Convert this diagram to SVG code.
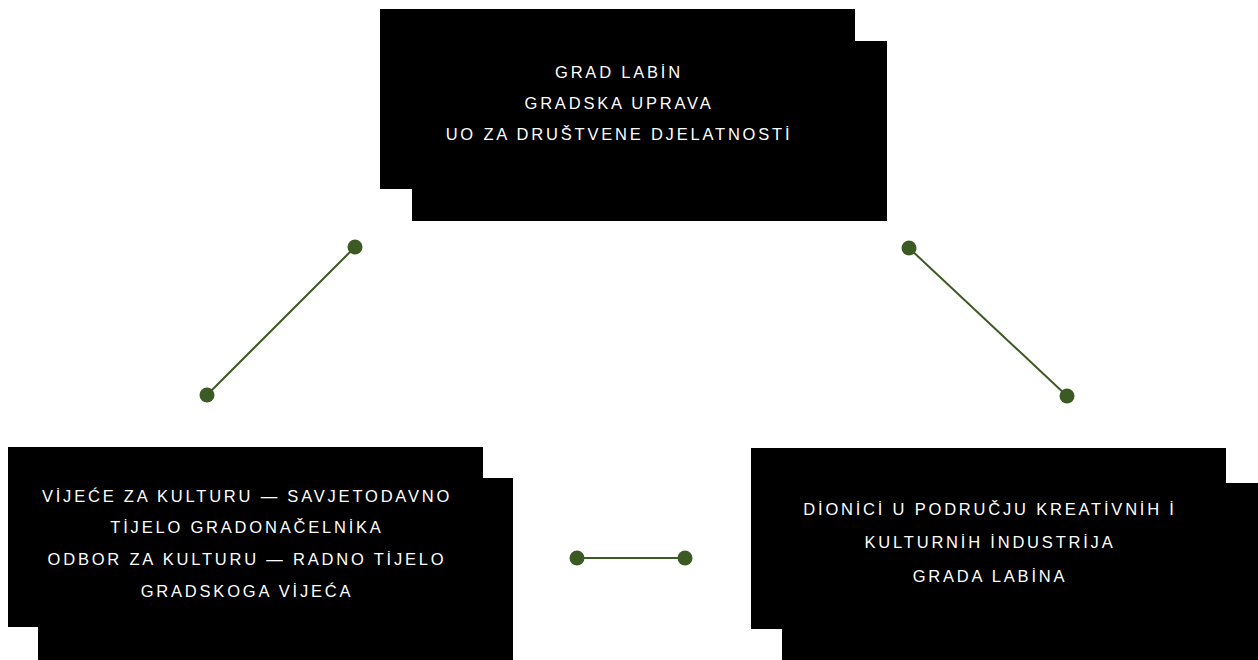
<svg xmlns="http://www.w3.org/2000/svg" width="1258" height="660" viewBox="0 0 1258 660">
<style>
.box{fill:#000}
.t{fill:#fff;font-family:"Liberation Sans",Arial,sans-serif;font-size:16.5px;letter-spacing:2.8px;text-anchor:middle}
.ln{stroke:#3c5a23;stroke-width:2;fill:none}
.dot{fill:#3c5a23}
</style>
<rect width="1258" height="660" fill="#fff"/>
<g id="connectors">
<line class="ln" x1="355" y1="247" x2="207" y2="395"/>
<circle class="dot" cx="355" cy="247" r="7.5"/>
<circle class="dot" cx="207" cy="395" r="7.5"/>
<line class="ln" x1="909" y1="248" x2="1067" y2="396"/>
<circle class="dot" cx="909" cy="248" r="7.5"/>
<circle class="dot" cx="1067" cy="396" r="7.5"/>
<line class="ln" x1="577" y1="558" x2="685" y2="558"/>
<circle class="dot" cx="577" cy="558" r="7.5"/>
<circle class="dot" cx="685" cy="558" r="7.5"/>
</g>
<g id="node-grad">
<rect class="box" x="380" y="9" width="475" height="180"/>
<rect class="box" x="412" y="41" width="475" height="180"/>
<text class="t" x="619" y="78">GRAD LABİN</text>
<text class="t" x="619" y="109">GRADSKA UPRAVA</text>
<text class="t" x="619" y="140">UO ZA DRUŠTVENE DJELATNOSTİ</text>
</g>
<g id="node-vijece">
<rect class="box" x="8" y="447" width="475" height="180"/>
<rect class="box" x="38" y="478" width="475" height="182"/>
<text class="t" x="247" y="502">VİJEĆE ZA KULTURU — SAVJETODAVNO</text>
<text class="t" x="247" y="533">TİJELO GRADONAČELNİKA</text>
<text class="t" x="247" y="565">ODBOR ZA KULTURU — RADNO TİJELO</text>
<text class="t" x="247" y="597">GRADSKOGA VİJEĆA</text>
</g>
<g id="node-dionici">
<rect class="box" x="751" y="448" width="475" height="181"/>
<rect class="box" x="782" y="483" width="476" height="177"/>
<text class="t" x="990" y="515">DİONİCİ U PODRUČJU KREATİVNİH İ</text>
<text class="t" x="990" y="548">KULTURNİH İNDUSTRİJA</text>
<text class="t" x="990" y="582">GRADA LABİNA</text>
</g>
</svg>
